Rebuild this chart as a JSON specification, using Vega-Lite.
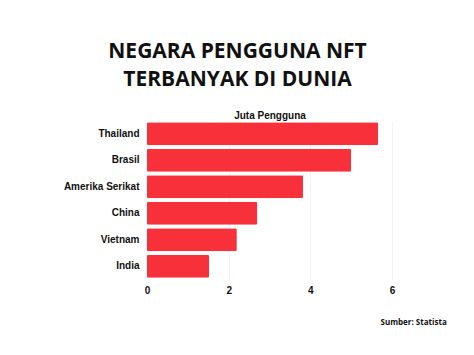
{
  "$schema": "https://vega.github.io/schema/vega-lite/v6.json",
  "width": 245,
  "height": 158,
  "autosize": {"type": "none"},
  "padding": {"left": 147, "top": 121, "right": 82, "bottom": 76},
  "background": "white",
  "title": {
    "text": ["NEGARA PENGGUNA NFT", "TERBANYAK DI DUNIA"],
    "font": "Open Sans",
    "fontSize": 21,
    "fontWeight": "bold",
    "color": "#111111",
    "anchor": "middle",
    "dx": -32,
    "lineHeight": 28,
    "offset": 20
  },
  "data": {
    "values": [
      {"negara": "Thailand", "pengguna": 5.66},
      {"negara": "Brasil", "pengguna": 5.0},
      {"negara": "Amerika Serikat", "pengguna": 3.82},
      {"negara": "China", "pengguna": 2.7},
      {"negara": "Vietnam", "pengguna": 2.2},
      {"negara": "India", "pengguna": 1.52}
    ]
  },
  "mark": {"type": "bar", "color": "#f7303a", "cornerRadius": 1.5},
  "encoding": {
    "y": {
      "field": "negara",
      "type": "nominal",
      "sort": null,
      "scale": {"paddingInner": 0.13, "paddingOuter": 0.05},
      "axis": {
        "title": "Sumber: Statista",
        "titleAngle": 0,
        "titleX": 233,
        "titleY": 203,
        "titleAlign": "left",
        "titleBaseline": "alphabetic",
        "titleFont": "Open Sans",
        "titleFontSize": 8,
        "titleFontWeight": "bold",
        "titleColor": "#111111",
        "domain": false,
        "ticks": false,
        "labelPadding": 8,
        "labelFont": "Liberation Sans",
        "labelFontSize": 10,
        "labelFontWeight": "bold",
        "labelColor": "#111111"
      }
    },
    "x": {
      "field": "pengguna",
      "type": "quantitative",
      "scale": {"domain": [0, 6], "nice": false},
      "axis": {
        "title": "Juta Pengguna",
        "titleY": -161,
        "titleBaseline": "alphabetic",
        "titleFont": "Liberation Sans",
        "titleFontSize": 10,
        "titleFontWeight": "bold",
        "titleColor": "#111111",
        "values": [0, 2, 4, 6],
        "domain": false,
        "ticks": false,
        "grid": true,
        "gridColor": "#f3f3f3",
        "labelFlush": false,
        "labelPadding": 6,
        "labelFont": "Liberation Sans",
        "labelFontSize": 10,
        "labelFontWeight": "bold",
        "labelColor": "#111111"
      }
    }
  },
  "config": {"view": {"stroke": null}}
}
